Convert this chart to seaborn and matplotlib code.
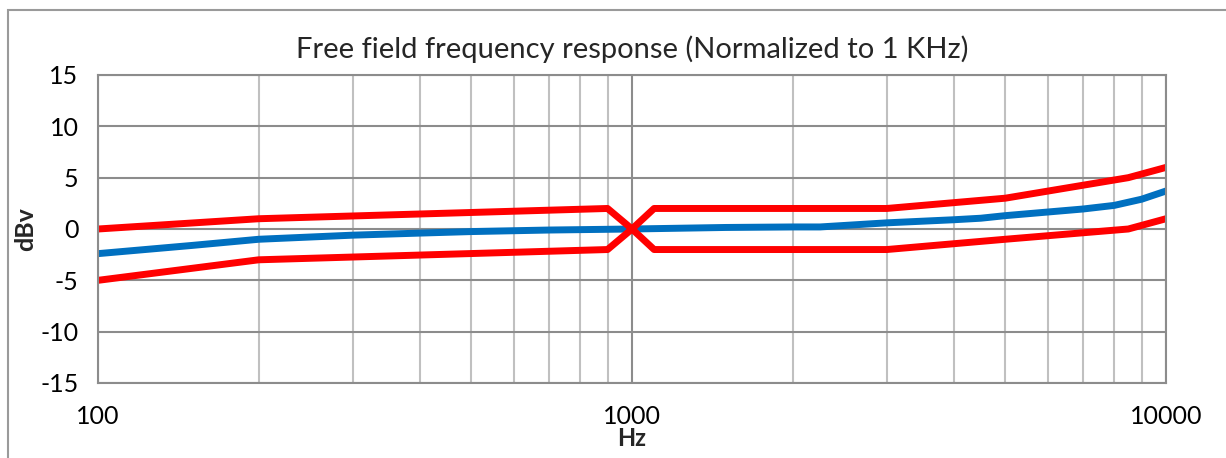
"""Free field frequency response plot with tolerance limits."""

import matplotlib.pyplot as plt
import matplotlib.patches as mpatches
import numpy as np
import pandas as pd
import seaborn as sns
from matplotlib.ticker import FixedLocator, NullFormatter

# Tolerance limits (Hz, dBv)
limit_freq = [100, 200, 900, 1000, 1100, 3000, 5000, 8500, 10000]
upper_db = [0, 1, 2, 0, 2, 2, 3, 5, 6]
lower_db = [-5, -3, -2, 0, -2, -2, -1, 0, 1]

# Measured response
resp_freq = [100, 150, 200, 300, 400, 500, 700, 1000, 1500, 2000, 2250,
             3000, 4000, 4500, 5000, 7000, 8000, 9000, 10000]
resp_db = [-2.4, -1.6, -1.0, -0.6, -0.4, -0.25, -0.1, 0.0, 0.15, 0.2, 0.2,
           0.6, 0.9, 1.05, 1.3, 1.95, 2.3, 2.9, 3.7]

sns.set_theme(style="white")
plt.rcParams["font.family"] = ["Lato", "DejaVu Sans"]
plt.rcParams["axes.unicode_minus"] = False

upper = pd.DataFrame({"Hz": limit_freq, "dBv": upper_db})
lower = pd.DataFrame({"Hz": limit_freq, "dBv": lower_db})
resp = pd.DataFrame({"Hz": resp_freq, "dBv": resp_db})

fig = plt.figure(figsize=(12.26, 4.58), dpi=100)
ax = fig.add_axes([98 / 1226, 1 - 383 / 458, (1166 - 98) / 1226, (383 - 75) / 458])

# outer frame like the spreadsheet chart area
fig.patches.append(mpatches.Rectangle((8 / 1226, -0.1), 1.2, 1 - 10 / 458 + 0.1,
                                      transform=fig.transFigure, fill=False,
                                      edgecolor="#9a9a9a", linewidth=1.5))

ax.set_xscale("log")
ax.set_xlim(100, 10000)
ax.set_ylim(-15, 15)

minor = [m * d for d in (100, 1000) for m in range(2, 10)]
ax.xaxis.set_minor_locator(FixedLocator(minor))
ax.xaxis.set_minor_formatter(NullFormatter())
ax.set_xticks([100, 1000, 10000])
ax.set_xticklabels(["100", "1000", "10000"])
ax.set_yticks(np.arange(-15, 16, 5))

ax.grid(which="minor", axis="x", color="#c0c0c0", linewidth=1.5)
ax.grid(which="major", axis="x", color="#8c8c8c", linewidth=1.5)
ax.grid(which="major", axis="y", color="#8c8c8c", linewidth=1.5)
for s in ax.spines.values():
    s.set_color("#8c8c8c")
    s.set_linewidth(1.5)

sns.lineplot(data=resp, x="Hz", y="dBv", ax=ax, color="#0070c0", linewidth=5)
sns.lineplot(data=upper, x="Hz", y="dBv", ax=ax, color="#ff0000", linewidth=5)
sns.lineplot(data=lower, x="Hz", y="dBv", ax=ax, color="#ff0000", linewidth=5)

ax.tick_params(axis="both", which="both", length=0, labelsize=18, colors="black")
ax.tick_params(axis="x", pad=16)
ax.tick_params(axis="y", pad=14)
ax.set_xlabel("Hz", fontsize=17, fontweight="bold", labelpad=-1)
ax.set_ylabel("dBv", fontsize=18, fontweight="bold", labelpad=2)
ax.set_title("Free field frequency response (Normalized to 1 KHz)", fontsize=21, pad=12)

fig.savefig("out.png", dpi=100)
